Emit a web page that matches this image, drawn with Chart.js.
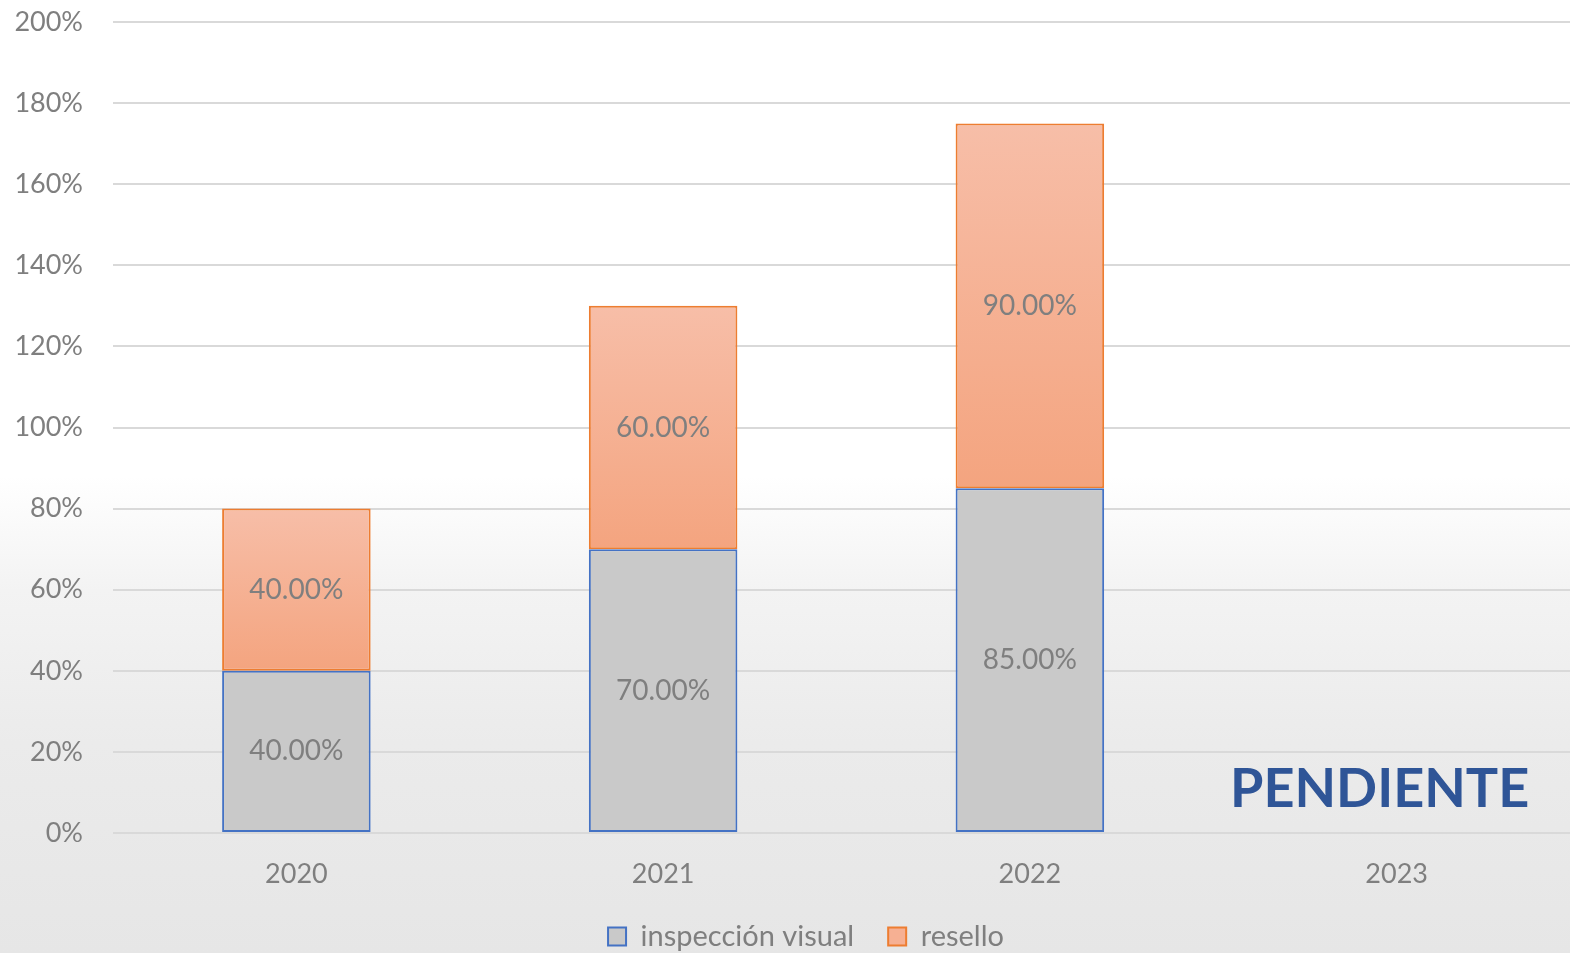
<!DOCTYPE html>
<html>
<head>
<meta charset="utf-8">
<script src="https://cdn.jsdelivr.net/npm/chart.js@4"></script>
<style>
  html, body { margin: 0; padding: 0; overflow: hidden; }
  body {
    width: 1570px; height: 953px; position: relative;
    background: linear-gradient(to bottom, #ffffff 0%, #ffffff 50%, #f3f3f3 62%, #ebebeb 78%, #e6e6e6 100%);
  }
  #wrap { position: absolute; left: 0; top: 0; width: 1570px; height: 953px; overflow: hidden; }
  #pendiente {
    position: absolute; left: 1230px; top: 754px;
    font-family: Lato, sans-serif; font-weight: bold; font-size: 54px;
    color: #2f5597;
  }
</style>
</head>
<body>
<div id="wrap">
  <canvas id="chart" width="1580" height="953"></canvas>
</div>
<div id="pendiente">PENDIENTE</div>
<script>
const years = ['2020', '2021', '2022', '2023']
const inspeccion = [40, 70, 85, null]
const resello = [40, 60, 90, null]
const yTicks = [0, 20, 40, 60, 80, 100, 120, 140, 160, 180, 200]

const textGray = '#7f7f7f'
const fontFamily = 'Lato, "Open Sans", sans-serif'

// gradient per bar, light on top and a bit darker toward the base
const barGradient = (light, dark, fallback) => (ctx) => {
  const chart = ctx.chart
  const y = chart.scales.y
  if (!y || ctx.type !== 'data') return fallback
  const i = ctx.dataIndex
  const base = ctx.datasetIndex === 0 ? 0 : (inspeccion[i] || 0)
  const top = base + (ctx.raw || 0)
  const y0 = y.getPixelForValue(top)
  const y1 = y.getPixelForValue(base)
  if (!isFinite(y0) || !isFinite(y1) || y0 === y1) return fallback
  const g = chart.ctx.createLinearGradient(0, y0, 0, y1)
  g.addColorStop(0, light)
  g.addColorStop(1, dark)
  return g
}

const valueLabels = {
  id: 'valueLabels',
  afterDatasetsDraw(chart) {
    const ctx = chart.ctx
    ctx.save()
    ctx.font = '28px ' + fontFamily
    ctx.fillStyle = textGray
    ctx.textAlign = 'center'
    ctx.textBaseline = 'middle'
    chart.data.datasets.forEach((ds, di) => {
      chart.getDatasetMeta(di).data.forEach((bar, i) => {
        const v = ds.data[i]
        if (v == null) return
        const mid = (bar.y + bar.base) / 2
        ctx.fillText(v.toFixed(2) + '%', bar.x, mid)
      })
    })
    ctx.restore()
  }
}

// legend sits a little right of the canvas centre
const legendShift = {
  id: 'legendShift',
  afterLayout(chart) {
    chart.legend.left += 16
    chart.legend.right += 16
  }
}

new Chart(document.getElementById('chart'), {
  type: 'bar',
  data: {
    labels: years,
    datasets: [
      {
        label: 'inspección visual',
        data: inspeccion,
        backgroundColor: '#c9c9c9',
        borderColor: '#4472c4',
        borderWidth: 2,
        borderSkipped: false
      },
      {
        label: 'resello',
        data: resello,
        backgroundColor: barGradient('#f7bea8', '#f4a47f', '#f6b093'),
        borderColor: '#ed7d31',
        borderWidth: 2,
        borderSkipped: false
      }
    ]
  },
  options: {
    responsive: false,
    animation: false,
    barPercentage: 0.81,
    categoryPercentage: 0.5,
    layout: { padding: { top: 22, left: 0, right: 0, bottom: -8 } },
    plugins: {
      tooltip: { enabled: false },
      legend: {
        position: 'bottom',
        labels: {
          color: textGray,
          font: { family: fontFamily, size: 29 },
          boxWidth: 18,
          boxHeight: 18,
          padding: 34,
          generateLabels: () => [
            { text: 'inspección visual', fillStyle: '#c9c9c9', strokeStyle: '#4472c4', lineWidth: 2, fontColor: textGray, datasetIndex: 0 },
            { text: 'resello', fillStyle: '#f6b093', strokeStyle: '#ed7d31', lineWidth: 2, fontColor: textGray, datasetIndex: 1 }
          ]
        }
      }
    },
    scales: {
      x: {
        stacked: true,
        grid: { display: false },
        border: { display: false },
        ticks: { color: textGray, font: { family: fontFamily, size: 27 }, padding: 17 },
        afterFit: (scale) => { scale.height = 55 }
      },
      y: {
        stacked: true,
        min: 0,
        max: 200,
        afterBuildTicks: (scale) => { scale.ticks = yTicks.map((v) => ({ value: v })) },
        grid: { color: '#d9d9d9', lineWidth: 2, drawTicks: false },
        border: { display: false },
        ticks: {
          color: textGray,
          font: { family: fontFamily, size: 27 },
          padding: 30,
          callback: (v) => v + '%'
        },
        afterFit: (scale) => {
          scale.width = 113
          scale.paddingTop = 0
          scale.paddingBottom = 0
        }
      }
    }
  },
  plugins: [valueLabels, legendShift]
})
</script>
</body>
</html>
